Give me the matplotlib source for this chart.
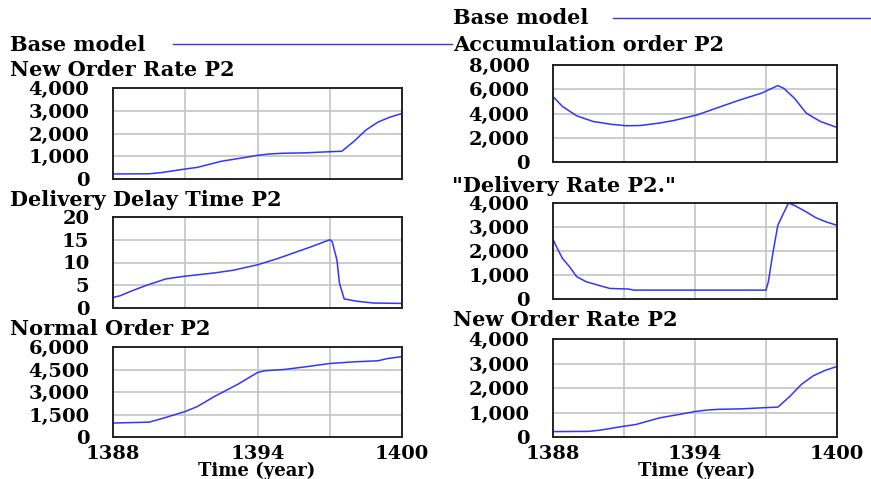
import numpy as np
import matplotlib
matplotlib.use('Agg')
import matplotlib.pyplot as plt

W, H = 871, 479

# New Order Rate P2 (shown twice)
t_new = [1388, 1389.5, 1390, 1391, 1391.5, 1392.5, 1393.5, 1394, 1394.5, 1395,
         1396, 1397, 1397.5, 1398, 1398.5, 1399, 1399.5, 1400]
v_new = [220, 230, 280, 440, 510, 780, 950, 1040, 1100, 1130,
         1150, 1200, 1220, 1650, 2150, 2500, 2720, 2880]

# Delivery Delay Time P2
t_delay = [1388, 1388.3, 1388.8, 1389.4, 1390.2, 1391, 1392.2, 1393, 1394, 1394.8,
           1395.5, 1396.2, 1397, 1397.1, 1397.3, 1397.4, 1397.6, 1398.1, 1398.8, 1400]
v_delay = [2.3, 2.7, 3.8, 5.0, 6.4, 7.0, 7.7, 8.3, 9.5, 10.8,
           12.1, 13.4, 15.0, 14.6, 10.5, 5.5, 2.0, 1.5, 1.1, 1.0]

# Normal Order P2
t_normal = [1388, 1389.5, 1390.1, 1391, 1391.5, 1392.2, 1393.2, 1394, 1394.3, 1395.1,
            1396, 1397, 1398, 1399, 1399.4, 1400]
v_normal = [930, 990, 1260, 1700, 2030, 2690, 3530, 4300, 4415, 4500,
            4680, 4900, 5010, 5080, 5230, 5360]

# Accumulation order P2
t_acc = [1388, 1388.4, 1389, 1389.7, 1390.5, 1391.1, 1391.7, 1392.5, 1393.1, 1394.1,
         1394.9, 1395.9, 1396.8, 1397.5, 1397.75, 1398.2, 1398.7, 1399.3, 1400]
v_acc = [5400, 4580, 3810, 3340, 3100, 2990, 3010, 3210, 3420, 3890,
         4440, 5120, 5670, 6300, 6080, 5260, 4030, 3340, 2850]

# "Delivery Rate P2."
t_rate = [1388, 1388.15, 1388.4, 1388.7, 1389, 1389.4, 1390, 1390.4, 1391.2, 1391.4,
          1397, 1397.1, 1397.3, 1397.5, 1397.7, 1397.95, 1398.2, 1398.7, 1399.1, 1399.55, 1400]
v_rate = [2490, 2170, 1690, 1340, 930, 720, 550, 440, 415, 370,
          370, 720, 1970, 3070, 3490, 4000, 3900, 3630, 3390, 3210, 3070]

x_ticks = [1388, 1394, 1400]
x_grid = [1388, 1391, 1394, 1397, 1400]

FONT = dict(family='DejaVu Serif', weight='bold', size=15)
TICKFONT = dict(family='DejaVu Serif', weight='bold', size=14)
AXFONT = dict(family='DejaVu Serif', weight='bold', size=13)
BLUE = '#3434ff'

fig = plt.figure(figsize=(W / 100, H / 100), dpi=100)


def px_axes(x0, x1, y0, y1):
    return fig.add_axes([x0 / W, 1 - y1 / H, (x1 - x0) / W, (y1 - y0) / H])


def panel(box, t, v, yticks, show_x):
    ax = px_axes(*box)
    ax.plot(t, v, color=BLUE, lw=1.1)
    ax.set_xlim(1388, 1400)
    ax.set_ylim(yticks[0], yticks[-1])
    for g in x_grid[1:-1]:
        ax.axvline(g, color='#c4c4c4', lw=1.2, zorder=0)
    for g in yticks[1:-1]:
        ax.axhline(g, color='#c4c4c4', lw=1.2, zorder=0)
    ax.set_yticks(yticks)
    ax.set_yticklabels(['{:,}'.format(y) for y in yticks], fontdict=TICKFONT)
    ax.tick_params(axis='y', length=0, pad=17)
    if show_x:
        ax.set_xticks(x_ticks)
        ax.set_xticklabels([str(x) for x in x_ticks], fontdict=TICKFONT)
        ax.tick_params(axis='x', length=0, pad=6)
    else:
        ax.set_xticks([])
    for s in ax.spines.values():
        s.set_color('#222222')
        s.set_linewidth(1.4)
    return ax


def label(x, y, s, **kw):
    fig.text(x / W, 1 - y / H, s, va=kw.pop('va', 'center'), ha=kw.pop('ha', 'left'),
             fontdict=kw.pop('fontdict', FONT), **kw)


# left column
panel((113, 402, 88, 179), t_new, v_new, [0, 1000, 2000, 3000, 4000], False)
panel((113, 402, 217, 308), t_delay, v_delay, [0, 5, 10, 15, 20], False)
panel((113, 402, 347, 437), t_normal, v_normal, [0, 1500, 3000, 4500, 6000], True)

# right column
panel((553, 837, 65, 162), t_acc, v_acc, [0, 2000, 4000, 6000, 8000], False)
panel((553, 837, 203, 299), t_rate, v_rate, [0, 1000, 2000, 3000, 4000], False)
panel((553, 837, 339, 437), t_new, v_new, [0, 1000, 2000, 3000, 4000], True)

# legends
label(10, 45, 'Base model')
fig.add_artist(plt.Line2D([173 / W, 452 / W], [1 - 44 / H, 1 - 44 / H], color=BLUE, lw=1.0))
label(453, 18, 'Base model')
fig.add_artist(plt.Line2D([613 / W, 871 / W], [1 - 18 / H, 1 - 18 / H], color=BLUE, lw=1.0))

# titles
label(10, 70, 'New Order Rate P2')
label(10, 200, 'Delivery Delay Time P2')
label(10, 329, 'Normal Order P2')
label(453, 45, 'Accumulation order P2')
label(452, 186, '"Delivery Rate P2."')
label(453, 320, 'New Order Rate P2')

label(257, 476, 'Time (year)', ha='center', va='baseline', fontdict=AXFONT)
label(697, 476, 'Time (year)', ha='center', va='baseline', fontdict=AXFONT)

fig.savefig('out.png', dpi=100)
